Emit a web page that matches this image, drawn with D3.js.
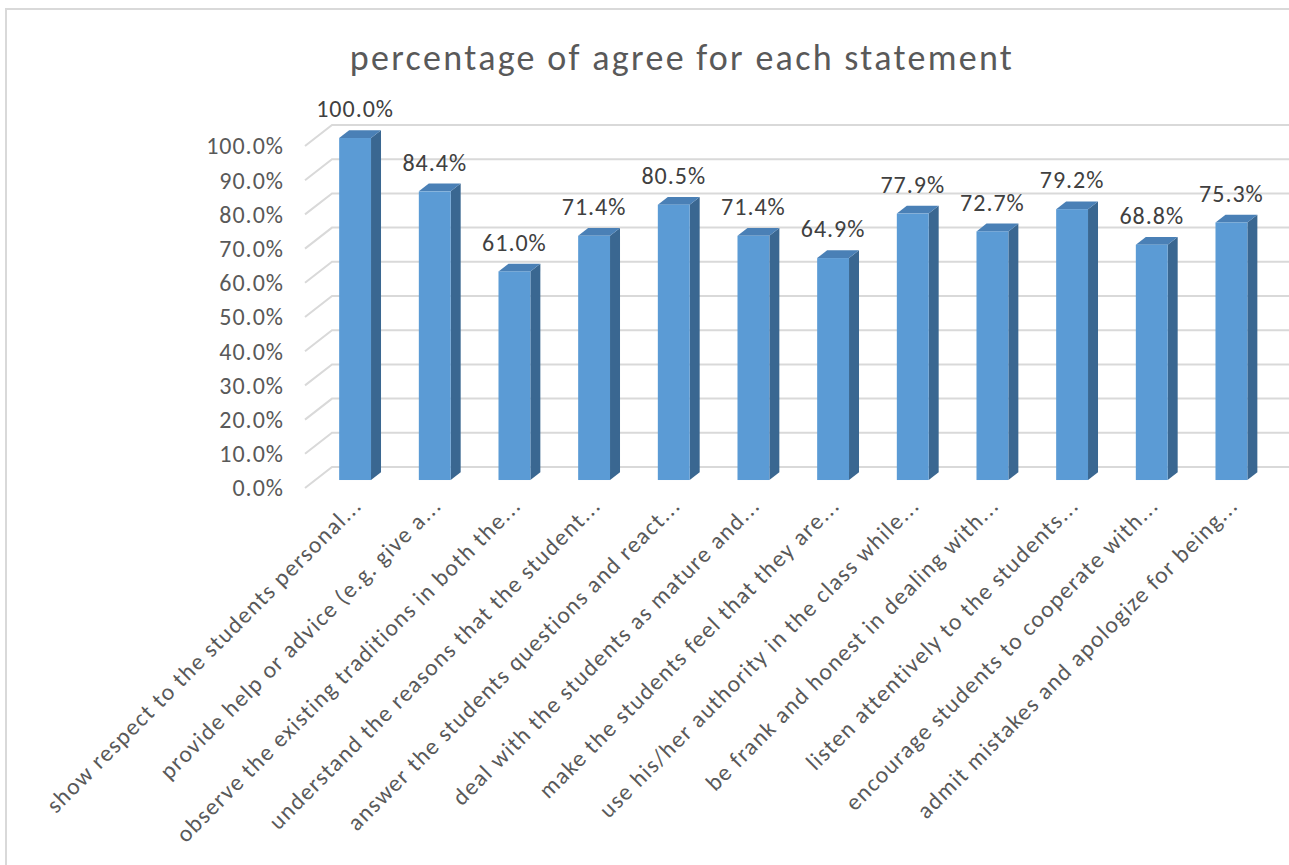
<!DOCTYPE html>
<html lang="en">
<head>
<meta charset="UTF-8">
<title>percentage of agree for each statement</title>
<script src="https://d3js.org/d3.v7.min.js"></script>
<style>
  body { margin: 0; background: #fff; overflow: hidden; }
  svg { display: block; font-family: Carlito, Lato, sans-serif; }
  .grid { stroke: #d9d9d9; stroke-width: 2; fill: none; }
  .tick-label { font-size: 24px; letter-spacing: 1px; fill: #595959; }
  .value-label { font-size: 24px; letter-spacing: 1px; fill: #404040; }
  .cat-label { font-size: 23.5px; letter-spacing: 1.3px; fill: #595959; }
  .title { font-size: 36px; letter-spacing: 2.3px; fill: #595959; }
</style>
</head>
<body>
<svg width="1289" height="865"></svg>
<script>
// statements (truncated like the source chart)
const categories = [
  'show respect to the students personal...',
  'provide help or advice (e.g. give a...',
  'observe the existing traditions in both the...',
  'understand the reasons that the student...',
  'answer the students questions and react...',
  'deal with the students as mature and...',
  'make the students feel that they are...',
  'use his/her authority in the class while...',
  'be frank and honest in dealing with...',
  'listen attentively to the students...',
  'encourage students to cooperate with...',
  'admit mistakes and apologize for being...'
];
const agree = [1.000, 0.844, 0.610, 0.714, 0.805, 0.714, 0.649, 0.779, 0.727, 0.792, 0.688, 0.753];
const yTicks = [0, 0.1, 0.2, 0.3, 0.4, 0.5, 0.6, 0.7, 0.8, 0.9, 1.0];

const svg = d3.select('svg');

// chart frame
svg.append('rect')
  .attr('x', 6).attr('y', 9)
  .attr('width', 1320).attr('height', 900)
  .attr('fill', '#fff')
  .attr('stroke', '#d9d9d9').attr('stroke-width', 2);

// fake 3D: front plane + depth vector for the walls
const depth = { dx: 27, dy: -21 };
const barDepth = { start: 0.38, end: 0.75 };

const x = d3.scaleBand()
  .domain(categories)
  .range([305, 1261])
  .paddingInner(0.6)
  .paddingOuter(0.3);

const y = d3.scaleLinear().domain([0, 1]).range([488, 146]);

const fmt = d3.format('.1%');

// side wall diagonals + back wall gridlines
const grid = svg.append('g');
yTicks.forEach(t => {
  const y0 = y(t);
  grid.append('path')
    .attr('class', 'grid')
    .attr('d', `M${x.range()[0]},${y0}L${x.range()[0] + depth.dx},${y0 + depth.dy}H1300`);
});

// y axis labels
svg.append('g').selectAll('text')
  .data(yTicks)
  .enter().append('text')
  .attr('class', 'tick-label')
  .attr('x', 284)
  .attr('y', d => y(d))
  .attr('dy', '0.35em')
  .attr('text-anchor', 'end')
  .text(d => fmt(d));

// bars
const ox = depth.dx * barDepth.start, oy = depth.dy * barDepth.start;
const bx = depth.dx * (barDepth.end - barDepth.start), by = depth.dy * (barDepth.end - barDepth.start);
const w = x.bandwidth();

const bars = svg.append('g').selectAll('g')
  .data(categories.map((c, i) => ({ c, v: agree[i] })))
  .enter().append('g');

// side face
bars.append('path')
  .attr('fill', '#3a6791')
  .attr('d', d => {
    const x1 = x(d.c) + ox + w, yb = y(0) + oy, yt = y(d.v) + oy;
    return `M${x1},${yb}L${x1 + bx},${yb + by}L${x1 + bx},${yt + by}L${x1},${yt}Z`;
  });
// top face
bars.append('path')
  .attr('fill', '#4a80b6')
  .attr('d', d => {
    const x0 = x(d.c) + ox, yt = y(d.v) + oy;
    return `M${x0},${yt}L${x0 + bx},${yt + by}L${x0 + w + bx},${yt + by}L${x0 + w},${yt}Z`;
  });
// front face
bars.append('rect')
  .attr('fill', '#5b9bd5')
  .attr('x', d => x(d.c) + ox)
  .attr('y', d => y(d.v) + oy)
  .attr('width', w)
  .attr('height', d => y(0) - y(d.v));

// value labels
bars.append('text')
  .attr('class', 'value-label')
  .attr('text-anchor', 'middle')
  .attr('x', d => x(d.c) + ox + w / 2)
  .attr('y', d => y(d.v) + oy + by - 13)
  .text(d => fmt(d.v));

// category labels, rotated 45 degrees
svg.append('g').selectAll('text')
  .data(categories)
  .enter().append('text')
  .attr('class', 'cat-label')
  .attr('text-anchor', 'end')
  .attr('transform', d => `translate(${x(d) + ox + w / 2 + 8},${y(0) + 19}) rotate(-45)`)
  .text(d => d);

// title
svg.append('text')
  .attr('class', 'title')
  .attr('x', 682)
  .attr('y', 70)
  .attr('text-anchor', 'middle')
  .text('percentage of agree for each statement');
</script>
</body>
</html>
